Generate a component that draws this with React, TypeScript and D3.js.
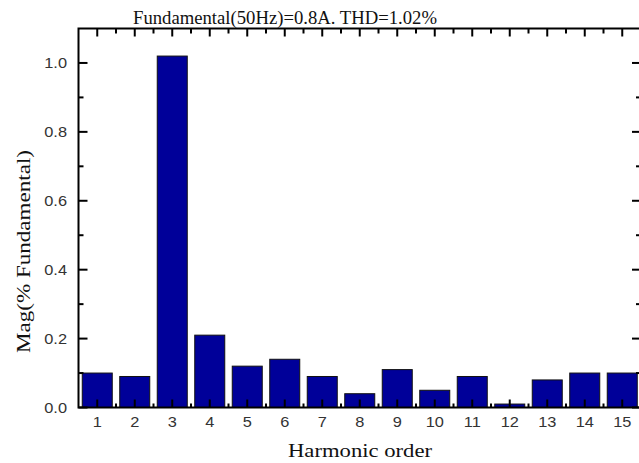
import React from "react";
import * as d3 from "d3";

const harmonics: number[] = [1, 2, 3, 4, 5, 6, 7, 8, 9, 10, 11, 12, 13, 14, 15];
const magnitudes: number[] = [0.1, 0.09, 1.02, 0.21, 0.12, 0.14, 0.09, 0.04, 0.11, 0.05, 0.09, 0.01, 0.08, 0.1, 0.1];
const yMajorTicks: number[] = [0.0, 0.2, 0.4, 0.6, 0.8, 1.0];
const yMinorTicks: number[] = [0.1, 0.3, 0.5, 0.7, 0.9];
const titleText = "Fundamental(50Hz)=0.8A. THD=1.02%";
const xLabel = "Harmonic order";
const yLabel = "Mag(% Fundamental)";

const W = 639;
const H = 463;
const left = 78.5;
const right = 641;
const top = 28.5;
const bottom = 407.5;

export default function App() {
  const x = d3.scaleLinear().domain([0.5, 15.5]).range([left, right]);
  const y = d3.scaleLinear().domain([0, 1.1]).range([bottom, top]);
  const barW = (x(1) - x(0)) * 0.8;
  const xMinor = d3.range(1.5, 15.5, 1);
  const serif = "'Liberation Serif', 'Times New Roman', serif";
  const sans = "'Liberation Sans', Arial, sans-serif";
  const sx = 1.17;

  return (
    <svg width={W} height={H} style={{ position: "absolute", left: 0, top: 0, background: "#fff" }}>
      <text
        x={133}
        y={24}
        fontFamily={serif}
        fontSize={18}
        fill="#111"
        textLength={304}
        lengthAdjust="spacingAndGlyphs"
      >
        {titleText}
      </text>
      {harmonics.map((h, i) => (
        <rect
          key={h}
          x={x(h) - barW / 2}
          y={y(magnitudes[i])}
          width={barW}
          height={y(0) - y(magnitudes[i])}
          fill="#000099"
          stroke="#111"
          strokeWidth={1}
        />
      ))}
      {/* frame */}
      <rect x={left} y={top} width={right - left} height={bottom - top} fill="none" stroke="#000" strokeWidth={2} />
      {/* bottom & top ticks */}
      {harmonics.map((h) => (
        <g key={"xt" + h}>
          <line x1={x(h)} x2={x(h)} y1={bottom} y2={bottom - 8} stroke="#000" strokeWidth={2} />
          <line x1={x(h)} x2={x(h)} y1={top} y2={top + 8} stroke="#000" strokeWidth={2} />
          <g transform={`translate(${x(h)},427) scale(${sx},1)`}>
            <text x={0} y={0} textAnchor="middle" fontFamily={sans} fontSize={14} fill="#333">
              {h}
            </text>
          </g>
        </g>
      ))}
      {xMinor.map((m) => (
        <g key={"xm" + m}>
          <line x1={x(m)} x2={x(m)} y1={bottom} y2={bottom - 4} stroke="#000" strokeWidth={2} />
          <line x1={x(m)} x2={x(m)} y1={top} y2={top + 5} stroke="#000" strokeWidth={2} />
        </g>
      ))}
      {/* left & right ticks */}
      {yMajorTicks.map((t) => (
        <g key={"yt" + t}>
          <line x1={left} x2={left + 9} y1={y(t)} y2={y(t)} stroke="#000" strokeWidth={2} />
          <line x1={right} x2={right - 9} y1={y(t)} y2={y(t)} stroke="#000" strokeWidth={2} />
          <g transform={`translate(67,${y(t) + 5}) scale(${sx},1)`}>
            <text x={0} y={0} textAnchor="end" fontFamily={sans} fontSize={14} fill="#333">
              {d3.format(".1f")(t)}
            </text>
          </g>
        </g>
      ))}
      {yMinorTicks.map((t) => (
        <g key={"ym" + t}>
          <line x1={left} x2={left + 5} y1={y(t)} y2={y(t)} stroke="#000" strokeWidth={2} />
          <line x1={right} x2={right - 5} y1={y(t)} y2={y(t)} stroke="#000" strokeWidth={2} />
        </g>
      ))}
      <text
        x={288}
        y={457}
        fontFamily={serif}
        fontSize={19}
        fill="#111"
        textLength={144}
        lengthAdjust="spacingAndGlyphs"
      >
        {xLabel}
      </text>
      <text
        transform={`translate(30, 353) rotate(-90)`}
        fontFamily={serif}
        fontSize={18}
        fill="#111"
        textLength={203}
        lengthAdjust="spacingAndGlyphs"
      >
        {yLabel}
      </text>
    </svg>
  );
}
